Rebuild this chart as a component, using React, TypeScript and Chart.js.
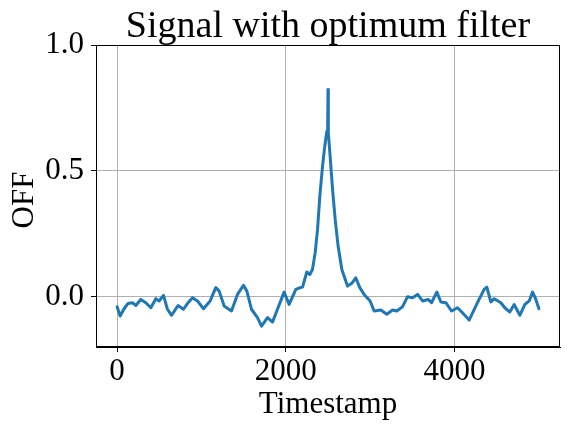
import React, { useEffect, useRef } from "react";
import { Chart, registerables } from "chart.js";

Chart.register(...registerables);

const chartTitle = "Signal with optimum filter";
const xAxisLabel = "Timestamp";
const yAxisLabel = "OFF";

const timestamps = [
  0, 36, 83, 130, 182, 222, 281, 340, 400, 459, 498, 550, 597, 645, 723, 787,
  842, 894, 953, 1024, 1103, 1170, 1210, 1269, 1316, 1356, 1427, 1498, 1538,
  1593, 1664, 1712, 1783, 1842, 1901, 1980, 2039, 2119, 2170, 2198, 2249, 2285,
  2316, 2348, 2376, 2403, 2435, 2462, 2486, 2496, 2500, 2504, 2525, 2554, 2585,
  2620, 2664, 2731, 2782, 2829, 2877, 2928, 2999, 3047, 3126, 3197, 3265, 3316,
  3383, 3443, 3502, 3562, 3621, 3687, 3727, 3790, 3838, 3897, 3964, 4035, 4094,
  4173, 4272, 4351, 4383, 4430, 4470, 4549, 4596, 4655, 4707, 4774, 4833, 4885,
  4925, 4964, 5000,
];

const offValues = [
  -0.04, -0.077, -0.048, -0.027, -0.024, -0.035, -0.011, -0.024, -0.044,
  -0.008, -0.017, 0.005, -0.05, -0.074, -0.035, -0.05, -0.024, -0.004, -0.017,
  -0.048, -0.017, 0.036, 0.022, -0.037, -0.048, -0.057, 0.009, 0.045, 0.022,
  -0.05, -0.083, -0.117, -0.083, -0.101, -0.05, 0.018, -0.031, 0.029, 0.036,
  0.038, 0.098, 0.088, 0.108, 0.175, 0.267, 0.399, 0.518, 0.598, 0.657, 0.66,
  0.823, 0.651, 0.558, 0.426, 0.307, 0.201, 0.108, 0.042, 0.053, 0.075, 0.036,
  0.009, -0.017, -0.057, -0.053, -0.07, -0.053, -0.057, -0.04, 0.0, -0.004,
  0.009, -0.017, -0.011, -0.024, 0.018, -0.021, -0.024, -0.057, -0.044, -0.064,
  -0.093, -0.024, 0.029, 0.038, -0.021, -0.008, -0.024, -0.044, -0.061, -0.031,
  -0.074, -0.031, -0.017, 0.018, -0.011, -0.048,
];

const xTicks = [0, 2000, 4000];
const yTicks = [0.0, 0.5, 1.0];
const xRange = [-250, 5250];
const yRange = [-0.2, 1.0];

const FONT = "'Liberation Serif', 'Times New Roman', 'DejaVu Serif', serif";

const textPlugin = {
  id: "mplText",
  afterDraw(chart: any) {
    const { ctx, chartArea } = chart;
    ctx.save();
    ctx.strokeStyle = "#000000";
    ctx.lineWidth = 1;
    ctx.strokeRect(
      Math.round(chartArea.left) + 0.5,
      Math.round(chartArea.top) + 0.5,
      Math.round(chartArea.right - chartArea.left) - 1,
      Math.round(chartArea.bottom - chartArea.top) - 1
    );
    ctx.fillStyle = "#000000";
    const cx = (chartArea.left + chartArea.right) / 2;
    ctx.textAlign = "center";
    ctx.textBaseline = "alphabetic";
    ctx.font = `38px ${FONT}`;
    ctx.fillText(chartTitle, cx, 37);
    ctx.font = `31px ${FONT}`;
    ctx.fillText(xAxisLabel, cx, 413);
    ctx.translate(33, 200);
    ctx.rotate(-Math.PI / 2);
    ctx.fillText(yAxisLabel, 0, 0);
    ctx.restore();
  },
};

export default function App() {
  const ref = useRef<HTMLCanvasElement | null>(null);
  useEffect(() => {
    if (!ref.current) return;
    const points = timestamps.map((t, i) => ({ x: t, y: offValues[i] }));
    const chart = new Chart(ref.current, {
      type: "line",
      data: {
        datasets: [
          {
            data: points,
            borderColor: "#1f77b4",
            backgroundColor: "#1f77b4",
            borderWidth: 3,
            pointRadius: 0,
            tension: 0,
            fill: false,
            borderJoinStyle: "round",
            borderCapStyle: "round",
          },
        ],
      },
      options: {
        animation: false,
        responsive: false,
        devicePixelRatio: 1,
        layout: { padding: { top: 45, right: 9, left: 0, bottom: 0 } },
        plugins: {
          legend: { display: false },
          title: { display: false },
          tooltip: { enabled: false },
        },
        scales: {
          x: {
            type: "linear",
            min: xRange[0],
            max: xRange[1],
            afterFit: (s: any) => {
              s.height = 84;
            },
            afterBuildTicks: (s: any) => {
              s.ticks = xTicks.map((v) => ({ value: v }));
            },
            ticks: {
              font: { family: FONT, size: 31 },
              color: "#000000",
              padding: 1,
              maxRotation: 0,
              callback: (v: any) => String(v),
            },
            grid: {
              color: "#b0b0b0",
              lineWidth: 1,
              tickColor: "#000000",
              tickLength: 5,
              drawTicks: true,
            },
            border: { display: true, color: "#000000", width: 1 },
          },
          y: {
            type: "linear",
            min: yRange[0],
            max: yRange[1],
            afterFit: (s: any) => {
              s.width = 96;
            },
            afterBuildTicks: (s: any) => {
              s.ticks = yTicks.map((v) => ({ value: v }));
            },
            ticks: {
              font: { family: FONT, size: 31 },
              color: "#000000",
              padding: 7,
              callback: (v: any) => Number(v).toFixed(1),
            },
            grid: {
              color: "#b0b0b0",
              lineWidth: 1,
              tickColor: "#000000",
              tickLength: 5,
              drawTicks: true,
            },
            border: { display: true, color: "#000000", width: 1 },
          },
        },
      },
      plugins: [textPlugin],
    });
    return () => chart.destroy();
  }, []);
  return (
    <div style={{ position: "fixed", left: 0, top: 0, width: 569, height: 431, background: "#ffffff" }}>
      <canvas ref={ref} width={569} height={431} style={{ width: 569, height: 431 }} />
    </div>
  );
}
